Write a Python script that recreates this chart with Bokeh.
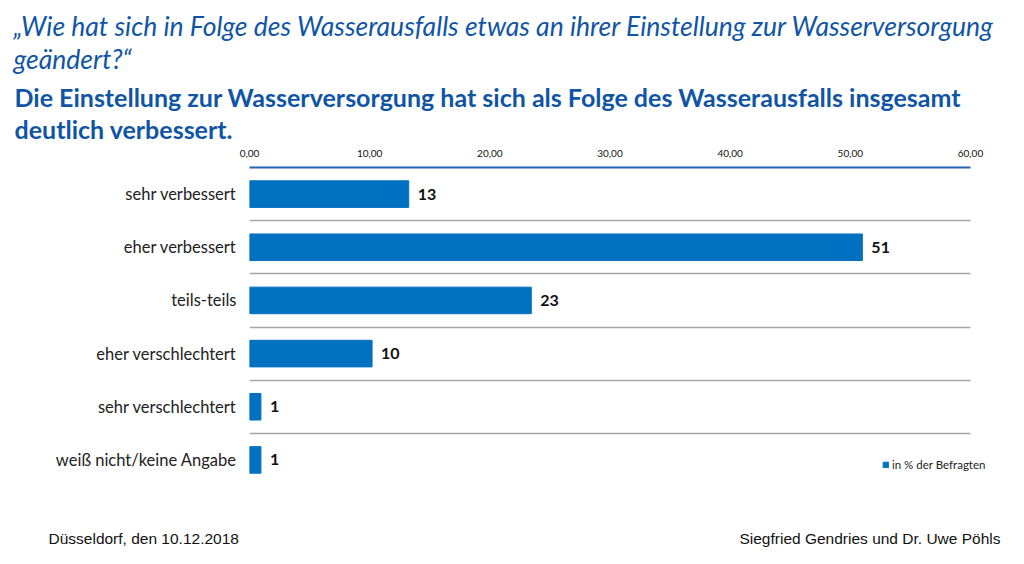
from bokeh.plotting import figure
from bokeh.layouts import column
from bokeh.models import (Range1d, FixedTicker, CustomJSTickFormatter, Label, Legend,
                          LegendItem, ColumnDataSource)
from bokeh.core.properties import value
from bokeh.embed import file_html
from bokeh.resources import INLINE

# ---- data ----
categories = ["sehr verbessert", "eher verbessert", "teils-teils",
              "eher verschlechtert", "sehr verschlechtert", "weiß nicht/keine Angabe"]
values = [13.25, 51.0, 23.45, 10.2, 0.95, 0.95]
value_labels = ["13", "51", "23", "10", "1", "1"]
tick_values = [0, 10, 20, 30, 40, 50, 60]
tick_labels = ["0,00", "10,00", "20,00", "30,00", "40,00", "50,00", "60,00"]
series_name = "in % der Befragten"
title_lines = ["„Wie hat sich in Folge des Wasserausfalls etwas an ihrer Einstellung zur Wasserversorgung",
               "geändert?“"]
subtitle_lines = ["Die Einstellung zur Wasserversorgung hat sich als Folge des Wasserausfalls insgesamt",
                  "deutlich verbessert."]
footer_left = "Düsseldorf, den 10.12.2018"
footer_right = "Siegfried Gendries und Dr. Uwe Pöhls"

FONT = "Lato"
BLUE_T = "#1055a5"
BAR = "#0070c0"
AXIS_BLUE = "#2262b4"

W = 1016
n = len(categories)
ypos = [i + 0.5 for i in range(n)]
src = ColumnDataSource(dict(y=ypos, v=values, lab=value_labels))


def no_align(f):
    if "frame_align" in f.properties():
        f.frame_align = False
    return f


def blank(height):
    f = figure(width=W, height=height, output_backend="svg", toolbar_location=None,
               x_range=Range1d(0, W), y_range=Range1d(height, 0),
               x_axis_type=None, y_axis_type=None,
               min_border=0, min_border_left=0, min_border_right=0,
               min_border_top=0, min_border_bottom=0)
    f.outline_line_color = None
    f.grid.visible = False
    return no_align(f)


def lab(f, text, x, y, size, style="normal", color=BLUE_T, font=FONT, align="left"):
    f.add_layout(Label(x=x, y=y, text=text, text_font=font, text_font_size=size,
                       text_font_style=style, text_color=color, text_align=align,
                       text_baseline="middle"))


# ---- header ----
HEAD_H = 146
head = blank(HEAD_H)
lab(head, title_lines[0], 13, 25, "26.5px", "italic")
lab(head, title_lines[1], 13, 58, "26.5px", "italic")
lab(head, subtitle_lines[0], 14, 96, "25px", "bold")
lab(head, subtitle_lines[1], 14, 128, "25px", "bold")

# ---- main chart ----
MAIN_H = 510 - HEAD_H
PX_LEFT, PX_RIGHT = 249, 1000
px_per_unit = (970 - 249) / tick_values[-1]
x_end = (PX_RIGHT - PX_LEFT) / px_per_unit

p = figure(width=W, height=MAIN_H, output_backend="svg", toolbar_location=None,
           x_range=Range1d(0, x_end), y_range=Range1d(n, 0),
           x_axis_location="above",
           min_border_left=PX_LEFT, min_border_right=W - PX_RIGHT,
           min_border_top=165 - HEAD_H, min_border_bottom=24)
p.outline_line_color = None
no_align(p)

r = p.hbar(y="y", right="v", left=0, height=0.5, source=src, color=BAR)

p.text(x="v", y="y", text="lab", source=src, x_offset=9, text_baseline="middle",
       text_font=value(FONT), text_font_style="bold", text_font_size="16px",
       text_color="#111111")

xa = p.xaxis[0]
xa.ticker = FixedTicker(ticks=tick_values)
xa.major_label_overrides = {t: l for t, l in zip(tick_values, tick_labels)}
xa.bounds = (tick_values[0], tick_values[-1])
xa.axis_line_color = AXIS_BLUE
xa.axis_line_width = 2
xa.major_tick_line_color = None
xa.minor_tick_line_color = None
xa.major_tick_out = 0
xa.major_label_standoff = 11
xa.major_label_text_font = FONT
xa.major_label_text_font_size = "10px"
xa.major_label_text_color = "#111111"

ya = p.yaxis[0]
ya.ticker = FixedTicker(ticks=ypos)
ya.formatter = CustomJSTickFormatter(args=dict(cats=categories),
                                     code="return cats[Math.floor(tick)];")
ya.axis_line_color = None
ya.major_tick_line_color = None
ya.minor_tick_line_color = None
ya.major_tick_out = 0
ya.major_label_standoff = 13
ya.major_label_text_font = FONT
ya.major_label_text_font_size = "16.5px"
ya.major_label_text_color = "#222222"

p.xgrid.visible = False
yg = p.ygrid[0]
yg.ticker = FixedTicker(ticks=list(range(1, n + 1)))
yg.grid_line_color = "#a6a6a6"
yg.grid_line_width = 1.5
if "cross_bounds" in yg.properties():
    yg.cross_bounds = (tick_values[0], tick_values[-1])

legend = Legend(items=[LegendItem(label=series_name, renderers=[r])],
                location=(633, 15), orientation="horizontal",
                glyph_width=7, glyph_height=7, label_standoff=3, label_height=11,
                padding=0, margin=0, spacing=0, border_line_color=None,
                background_fill_alpha=0, label_text_font=FONT,
                label_text_font_size="11.5px", label_text_color="#222222")
p.add_layout(legend, "center")

# ---- footer ----
FOOT_H = 50
foot = blank(FOOT_H)
lab(foot, footer_left, 48, 28, "15.5px", color="#111111", font="Liberation Sans")
lab(foot, footer_right, 1000, 28, "15.5px", color="#111111", font="Liberation Sans",
    align="right")

layout = column(head, p, foot, spacing=0)
open("out.html", "w").write(file_html(layout, INLINE))
